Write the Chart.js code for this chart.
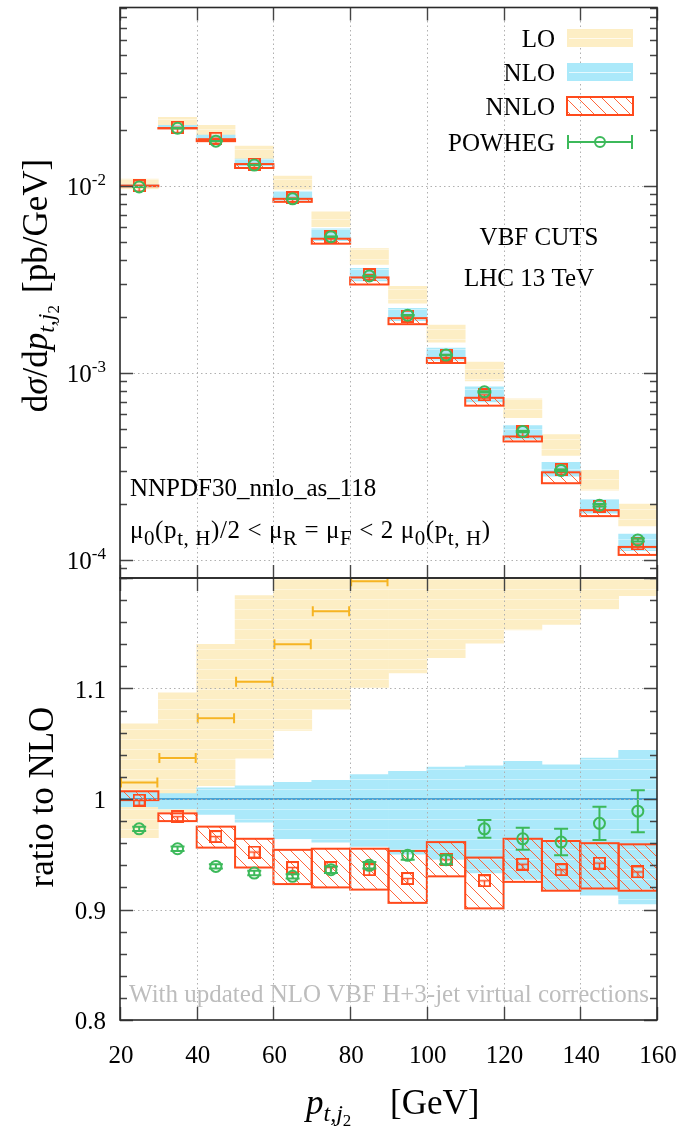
<!DOCTYPE html>
<html>
<head>
<meta charset="utf-8">
<title>VBF H pt,j2</title>
<script src="https://cdn.jsdelivr.net/npm/chart.js@4.4.1/dist/chart.umd.min.js"></script>
<style>
  html, body { margin: 0; padding: 0; background: #fff; }
  #wrap { position: relative; width: 683px; height: 1128px; overflow: hidden; }
  canvas { position: absolute; left: 0; }
  #ratioCanvas { top: 560px; }
  #mainCanvas { top: 0; }
</style>
</head>
<body>
<div id="wrap">
  <canvas id="ratioCanvas" width="683" height="568"></canvas>
  <canvas id="mainCanvas" width="683" height="600"></canvas>
</div>
<script>
// bins in p_t,j2 [GeV]
const binCenters = [25, 35, 45, 55, 65, 75, 85, 95, 105, 115, 125, 135, 145, 155];
const halfBin = 5;

// upper panel, dsigma/dpt [pb/GeV]
const loLow     = [0.00964, 0.0205, 0.01868, 0.01392, 0.00952, 0.00605, 0.0038, 0.002357, 0.001462, 0.000907, 0.000576, 0.000362, 0.000236, 0.0001517];
const loHigh    = [0.01089, 0.02328, 0.02111, 0.01632, 0.0113, 0.00727, 0.00462, 0.0029, 0.0018, 0.001144, 0.000727, 0.000468, 0.000301, 0.0001986];
const nloLow    = [0.00995, 0.0203, 0.0176, 0.0128, 0.0084, 0.0051, 0.0031, 0.0019, 0.00117, 0.0007, 0.00044, 0.00028, 0.000178, 0.000112];
const nloHigh   = [0.01012, 0.02111, 0.01868, 0.01392, 0.00929, 0.0059, 0.00362, 0.002216, 0.001358, 0.000842, 0.000523, 0.000332, 0.000211, 0.0001375];
const nnloLow   = [0.00996, 0.0203, 0.01735, 0.01247, 0.00822, 0.00491, 0.00297, 0.001822, 0.00113, 0.000668, 0.00043, 0.000257, 0.0001714, 0.0001063];
const nnloHigh  = [0.01004, 0.0204, 0.01778, 0.01309, 0.00853, 0.00522, 0.00324, 0.001962, 0.001202, 0.000736, 0.000457, 0.000294, 0.0001845, 0.0001173];
const nnloCentral = [0.0100, 0.0206, 0.0180, 0.01309, 0.00863, 0.00535, 0.00336, 0.00201, 0.001246, 0.000764, 0.000486, 0.000305, 0.000194, 0.0001216];
const powheg    = [0.00988, 0.02035, 0.01735, 0.01293, 0.00853, 0.00535, 0.0033, 0.002035, 0.001246, 0.000792, 0.000486, 0.000301, 0.000196, 0.0001278];
const powhegErr = [0.00002, 0.00004, 0.00003, 0.00003, 0.00002, 0.000016, 0.00001, 0.000008, 0.000005, 0.000006, 0.000005, 0.0000035, 0.000003, 0.0000025];

// lower panel, ratio to NLO
const loRatioLow    = [0.965, 0.988, 1.012, 1.037, 1.062, 1.081, 1.101, 1.114, 1.128, 1.141, 1.153, 1.158, 1.172, 1.184];
const loRatioHigh   = [1.068, 1.096, 1.140, 1.184, 1.24, 1.28, 1.32, 1.36, 1.37, 1.43, 1.46, 1.50, 1.51, 1.54];
const loRatio       = [1.015, 1.037, 1.073, 1.106, 1.140, 1.170, 1.197, 1.23, 1.24, 1.27, 1.30, 1.31, 1.33, 1.34];
const nloRatioLow   = [0.993, 0.991, 0.986, 0.979, 0.964, 0.961, 0.957, 0.950, 0.945, 0.933, 0.927, 0.917, 0.913, 0.905];
const nloRatioHigh  = [1.006, 1.005, 1.010, 1.012, 1.015, 1.017, 1.022, 1.025, 1.029, 1.030, 1.034, 1.031, 1.037, 1.044];
const nloRatio      = [1, 1, 1, 1, 1, 1, 1, 1, 1, 1, 1, 1, 1, 1];
const nnloRatioLow  = [0.999, 0.980, 0.956, 0.938, 0.923, 0.920, 0.918, 0.906, 0.930, 0.901, 0.925, 0.917, 0.919, 0.917];
const nnloRatioHigh = [1.007, 0.987, 0.975, 0.964, 0.954, 0.955, 0.955, 0.953, 0.961, 0.947, 0.964, 0.962, 0.960, 0.959];
const nnloRatio     = [0.999, 0.984, 0.966, 0.952, 0.938, 0.938, 0.936, 0.928, 0.945, 0.926, 0.941, 0.936, 0.942, 0.934];
const powRatio      = [0.973, 0.955, 0.939, 0.933, 0.930, 0.936, 0.940, 0.949, 0.945, 0.973, 0.964, 0.961, 0.978, 0.989];
const powRatioErr   = [0.002, 0.002, 0.002, 0.002, 0.002, 0.003, 0.003, 0.004, 0.004, 0.008, 0.010, 0.012, 0.015, 0.019];

// axes
const xTicks = [20, 40, 60, 80, 100, 120, 140, 160];
const xGrid = [40, 60, 80, 100, 120, 140];
const mainMajor = [1e-4, 1e-3, 1e-2];
const mainExp = ['-4', '-3', '-2'];
const mainMinor = [8e-5, 9e-5, 2e-4, 3e-4, 4e-4, 5e-4, 6e-4, 7e-4, 8e-4, 9e-4, 2e-3, 3e-3, 4e-3, 5e-3, 6e-3, 7e-3, 8e-3, 9e-3, 2e-2, 3e-2, 4e-2, 5e-2, 6e-2, 7e-2, 8e-2, 9e-2];
const ratioMajor = [0.8, 0.9, 1, 1.1, 1.2];
const ratioLabels = ['0.8', '0.9', '1', '1.1'];
const ratioMinor = [0.82, 0.84, 0.86, 0.88, 0.92, 0.94, 0.96, 0.98, 1.02, 1.04, 1.06, 1.08, 1.12, 1.14, 1.16, 1.18];
const legendLabels = ['LO', 'NLO', 'NNLO', 'POWHEG'];

const SERIF = "'Liberation Serif', 'Times New Roman', serif";
const RED = '#ff4a1c', GREEN = '#3cb95a', GOLD = '#f6b422';
const LOFILL = '#fdeec5', NLOFILL = '#abe9fa', NLOLINE = '#4aa3d5', FRAME = '#2a2a2a';

function makeHatch(ctx) {
  const c = document.createElement('canvas');
  c.width = 12; c.height = 12;
  const g = c.getContext('2d');
  g.strokeStyle = 'rgba(255,95,50,0.95)';
  g.lineWidth = 1;
  g.beginPath();
  g.moveTo(-2, -2); g.lineTo(14, 14);
  g.moveTo(-2, 10); g.lineTo(2, 14);
  g.moveTo(10, -2); g.lineTo(14, 2);
  g.stroke();
  return ctx.createPattern(c, 'repeat');
}

function makeStripes(ctx, fill) {
  const c = document.createElement('canvas');
  c.width = 4; c.height = 10;
  const g = c.getContext('2d');
  g.fillStyle = fill;
  g.fillRect(0, 0, 4, 10);
  g.fillStyle = 'rgba(255,255,255,0.4)';
  g.fillRect(0, 9, 4, 1);
  return ctx.createPattern(c, 'repeat');
}

function makeMarker() {
  const c = document.createElement('canvas');
  c.width = 13; c.height = 13;
  const g = c.getContext('2d');
  g.strokeStyle = RED;
  g.lineWidth = 2;
  g.strokeRect(1, 1, 11, 11);
  g.lineWidth = 1.5;
  g.beginPath();
  g.moveTo(1, 6.5); g.lineTo(12, 6.5);
  g.moveTo(6.5, 6.5); g.lineTo(6.5, 12);
  g.stroke();
  return c;
}

function bandData(lo, hi) {
  return binCenters.map((x, i) => ({ x: x, y: [lo[i], hi[i]] }));
}
function pointData(v) {
  return binCenters.map((x, i) => ({ x: x, y: v[i] }));
}

function fontOf(p) {
  return (p.i ? 'italic ' : '') + p.s + 'px ' + SERIF;
}
function drawParts(ctx, parts, x, y, align) {
  let w = 0;
  parts.forEach(p => { ctx.font = fontOf(p); w += ctx.measureText(p.t).width; });
  let cx = align === 'right' ? x - w : align === 'center' ? x - w / 2 : x;
  ctx.textAlign = 'left';
  parts.forEach(p => {
    ctx.font = fontOf(p);
    ctx.fillText(p.t, cx, y + (p.dy || 0));
    cx += ctx.measureText(p.t).width;
  });
  return w;
}

// shared drawing for both panels: outlines, error bars, grid, ticks, frame
function panelPlugin(cfg) {
  return {
    id: 'panel' + cfg.name,
    afterDatasetDraw(chart, args) {
      const ds = chart.data.datasets[args.index];
      const { ctx, chartArea: a } = chart;
      const sx = chart.scales.x, sy = chart.scales.y;
      ctx.save();
      ctx.beginPath();
      ctx.rect(a.left, a.top, a.right - a.left, a.bottom - a.top);
      ctx.clip();
      if (ds.outline) {
        ctx.strokeStyle = ds.outline;
        ctx.lineWidth = 2;
        args.meta.data.forEach(bar => {
          const p = bar.getProps(['x', 'y', 'base', 'width'], true);
          ctx.strokeRect(p.x - p.width / 2, Math.min(p.y, p.base), p.width, Math.abs(p.base - p.y));
        });
      }
      if (ds.hbars) {
        const hb = ds.hbars;
        ctx.strokeStyle = hb.color;
        ctx.lineWidth = hb.width;
        ctx.beginPath();
        binCenters.forEach((c, i) => {
          const py = sy.getPixelForValue(hb.values[i]);
          const x0 = sx.getPixelForValue(c - halfBin), x1 = sx.getPixelForValue(c + halfBin);
          ctx.moveTo(x0, py); ctx.lineTo(x1, py);
          if (hb.cap) {
            ctx.moveTo(x0 + 1, py - hb.cap); ctx.lineTo(x0 + 1, py + hb.cap);
            ctx.moveTo(x1 - 1, py - hb.cap); ctx.lineTo(x1 - 1, py + hb.cap);
          }
        });
        ctx.stroke();
      }
      if (ds.errors) {
        ctx.strokeStyle = ds.borderColor;
        ctx.lineWidth = 2;
        ctx.beginPath();
        ds.data.forEach((d, i) => {
          const px = sx.getPixelForValue(d.x);
          const y0 = sy.getPixelForValue(d.y - ds.errors[i]);
          const y1 = sy.getPixelForValue(d.y + ds.errors[i]);
          ctx.moveTo(px, y0); ctx.lineTo(px, y1);
          ctx.moveTo(px - 7, y0); ctx.lineTo(px + 7, y0);
          ctx.moveTo(px - 7, y1); ctx.lineTo(px + 7, y1);
        });
        ctx.stroke();
      }
      ctx.restore();
    },
    afterDatasetsDraw(chart) {
      const { ctx, chartArea: a } = chart;
      const sx = chart.scales.x, sy = chart.scales.y;
      ctx.save();
      // dotted grid
      ctx.strokeStyle = '#b0b0b0';
      ctx.lineWidth = 1;
      ctx.setLineDash([1.5, 3]);
      ctx.beginPath();
      xGrid.forEach(v => {
        const px = Math.round(sx.getPixelForValue(v)) + 0.5;
        ctx.moveTo(px, a.top); ctx.lineTo(px, a.bottom);
      });
      cfg.gridY.forEach(v => {
        const py = Math.round(sy.getPixelForValue(v)) + 0.5;
        ctx.moveTo(a.left, py); ctx.lineTo(a.right, py);
      });
      ctx.stroke();
      ctx.setLineDash([]);
      // inward ticks on all sides
      ctx.strokeStyle = '#444';
      ctx.lineWidth = 1.4;
      ctx.beginPath();
      const yTick = (v, len) => {
        const py = Math.round(sy.getPixelForValue(v)) + 0.5;
        ctx.moveTo(a.left, py); ctx.lineTo(a.left + len, py);
        ctx.moveTo(a.right, py); ctx.lineTo(a.right - len, py);
      };
      cfg.yMajor.forEach(v => yTick(v, 13));
      cfg.yMinor.forEach(v => yTick(v, 7));
      xTicks.forEach(v => {
        const px = Math.round(sx.getPixelForValue(v)) + 0.5;
        ctx.moveTo(px, a.top); ctx.lineTo(px, a.top + 13);
        ctx.moveTo(px, a.bottom); ctx.lineTo(px, a.bottom - 13);
      });
      ctx.stroke();
      // frame
      ctx.strokeStyle = FRAME;
      ctx.lineWidth = 1.6;
      ctx.strokeRect(a.left, a.top, a.right - a.left, a.bottom - a.top);
      ctx.restore();
    },
    afterDraw(chart) {
      const ctx = chart.ctx;
      ctx.save();
      ctx.fillStyle = '#000';
      ctx.textBaseline = 'alphabetic';
      cfg.decorate(chart, ctx);
      ctx.restore();
    }
  };
}

function decorateMain(chart, ctx) {
  const sy = chart.scales.y;
  // y tick labels 10^n
  mainMajor.forEach((v, i) => {
    const py = sy.getPixelForValue(v);
    ctx.textAlign = 'right';
    ctx.font = '17px ' + SERIF;
    const ew = ctx.measureText(mainExp[i]).width;
    ctx.fillText(mainExp[i], 106, py - 1);
    ctx.font = '25px ' + SERIF;
    ctx.fillText('10', 106 - ew, py + 9);
  });

  // legend
  const rows = [38, 72, 106, 142];
  legendLabels.forEach((lab, i) => {
    const ry = rows[i];
    ctx.fillStyle = '#000';
    ctx.font = '25px ' + SERIF;
    ctx.textAlign = 'right';
    ctx.fillText(lab, 555, ry + 9);
    if (i === 0 || i === 1) {
      ctx.fillStyle = i === 0 ? LOFILL : NLOFILL;
      ctx.fillRect(567, ry - 9, 66, 18);
      ctx.fillStyle = 'rgba(255,255,255,0.7)';
      ctx.fillRect(569, ry, 62, 1);
    } else if (i === 2) {
      ctx.fillStyle = hatchMain;
      ctx.fillRect(567, ry - 9, 66, 18);
      ctx.strokeStyle = RED;
      ctx.lineWidth = 2;
      ctx.strokeRect(567, ry - 9, 66, 18);
    } else {
      ctx.strokeStyle = GREEN;
      ctx.lineWidth = 2;
      ctx.beginPath();
      ctx.moveTo(567, ry); ctx.lineTo(633, ry);
      ctx.moveTo(568, ry - 7); ctx.lineTo(568, ry + 7);
      ctx.moveTo(632, ry - 7); ctx.lineTo(632, ry + 7);
      ctx.stroke();
      ctx.beginPath();
      ctx.arc(600, ry, 5, 0, Math.PI * 2);
      ctx.stroke();
    }
  });

  // annotations
  ctx.fillStyle = '#000';
  ctx.font = '25px ' + SERIF;
  ctx.textAlign = 'center';
  ctx.fillText('VBF CUTS', 539, 245);
  ctx.fillText('LHC 13 TeV', 529, 286);
  ctx.textAlign = 'left';
  ctx.fillText('NNPDF30_nnlo_as_118', 130, 496);
  ctx.letterSpacing = '0.6px';
  drawParts(ctx, [
    { t: 'μ', s: 25 }, { t: '0', s: 21, dy: 7 }, { t: '(p', s: 25 }, { t: 't, H', s: 21, dy: 7 },
    { t: ')/2 < μ', s: 25 }, { t: 'R', s: 21, dy: 7 }, { t: ' = μ', s: 25 }, { t: 'F', s: 21, dy: 7 },
    { t: ' < 2 μ', s: 25 }, { t: '0', s: 21, dy: 7 }, { t: '(p', s: 25 }, { t: 't, H', s: 21, dy: 7 },
    { t: ')', s: 25 }
  ], 130, 538, 'left');
  ctx.letterSpacing = '0px';

  // y axis title, rotated
  ctx.save();
  ctx.translate(47, 0);
  ctx.rotate(-Math.PI / 2);
  drawParts(ctx, [
    { t: 'd', s: 35 }, { t: 'σ', s: 35, i: true }, { t: '/d', s: 35 }, { t: 'p', s: 35, i: true },
    { t: 't,j', s: 24, i: true, dy: 7 }, { t: '2', s: 17, dy: 12 }
  ], -305, 0, 'right');
  drawParts(ctx, [{ t: '[pb/GeV]', s: 35 }], -293, 0, 'left');
  ctx.restore();
}

const OFF = 560;
function decorateRatio(chart, ctx) {
  const sx = chart.scales.x, sy = chart.scales.y;
  ctx.font = '25px ' + SERIF;
  ctx.textAlign = 'right';
  ratioLabels.forEach((lab, i) => {
    const py = sy.getPixelForValue(ratioMajor[i]);
    ctx.fillText(lab, 106, py + 9);
  });
  ctx.textAlign = 'center';
  xTicks.forEach(v => {
    ctx.fillText(String(v), sx.getPixelForValue(v) + 1, 1063 - OFF);
  });

  // watermark
  ctx.fillStyle = '#bdbdbd';
  ctx.fillText('With updated NLO VBF H+3-jet virtual corrections', 389, 1002 - OFF);

  // x axis title
  ctx.fillStyle = '#000';
  drawParts(ctx, [
    { t: 'p', s: 35, i: true }, { t: 't,j', s: 24, i: true, dy: 7 }, { t: '2', s: 17, dy: 12 }
  ], 306, 1114 - OFF, 'left');
  drawParts(ctx, [{ t: '[GeV]', s: 35 }], 390, 1114 - OFF, 'left');

  // y axis title
  ctx.save();
  ctx.translate(53, 0);
  ctx.rotate(-Math.PI / 2);
  drawParts(ctx, [{ t: 'ratio to NLO', s: 35 }], -(797 - OFF), 0, 'center');
  ctx.restore();
}

const mainCtx = document.getElementById('mainCanvas').getContext('2d');
const ratioCtx = document.getElementById('ratioCanvas').getContext('2d');
const hatchMain = makeHatch(mainCtx);
const hatchRatio = makeHatch(ratioCtx);
const marker = makeMarker();

function baseOptions(padding, yScale) {
  return {
    responsive: false,
    animation: false,
    events: [],
    layout: { padding: padding },
    plugins: { legend: { display: false }, tooltip: { enabled: false } },
    scales: {
      x: { type: 'linear', min: 20, max: 160, offset: false, display: false },
      y: Object.assign({ display: false }, yScale)
    }
  };
}

function datasets(ctx, hatch, d) {
  return [
    {
      type: 'scatter', label: 'POWHEG', data: pointData(d.pow), errors: d.powErr, order: 0, clip: 0,
      borderColor: GREEN, pointStyle: 'circle', pointRadius: 5.5, pointBorderWidth: 2,
      pointBorderColor: GREEN, pointBackgroundColor: 'rgba(0,0,0,0)'
    },
    {
      type: 'scatter', label: 'NNLO central', data: pointData(d.nnlo), order: 1, clip: 0,
      pointStyle: marker, pointRadius: 6
    },
    {
      type: 'bar', label: 'NNLO', data: bandData(d.nnloLow, d.nnloHigh), order: 2, clip: 0,
      grouped: false, barPercentage: 1, categoryPercentage: 1, borderWidth: 0,
      backgroundColor: hatch, outline: RED
    },
    {
      type: 'bar', label: 'NLO', data: bandData(d.nloLow, d.nloHigh), order: 3, clip: 0,
      grouped: false, barPercentage: 1, categoryPercentage: 1, borderWidth: 0,
      backgroundColor: makeStripes(ctx, NLOFILL), hbars: d.nloLine
    },
    {
      type: 'bar', label: 'LO', data: bandData(d.loLow, d.loHigh), order: 4, clip: 0,
      grouped: false, barPercentage: 1, categoryPercentage: 1, borderWidth: 0,
      backgroundColor: makeStripes(ctx, LOFILL), hbars: d.loLine
    }
  ];
}

new Chart(mainCtx, {
  type: 'bar',
  data: {
    datasets: datasets(mainCtx, hatchMain, {
      pow: powheg, powErr: powhegErr, nnlo: nnloCentral, nnloLow: nnloLow, nnloHigh: nnloHigh,
      nloLow: nloLow, nloHigh: nloHigh, loLow: loLow, loHigh: loHigh
    })
  },
  options: baseOptions({ left: 120, right: 26, top: 7, bottom: 22 },
    { type: 'logarithmic', min: 8e-5, max: 0.09 }),
  plugins: [panelPlugin({ name: 'Main', gridY: mainMajor, yMajor: mainMajor, yMinor: mainMinor, decorate: decorateMain })]
});

new Chart(ratioCtx, {
  type: 'bar',
  data: {
    datasets: datasets(ratioCtx, hatchRatio, {
      pow: powRatio, powErr: powRatioErr, nnlo: nnloRatio, nnloLow: nnloRatioLow, nnloHigh: nnloRatioHigh,
      nloLow: nloRatioLow, nloHigh: nloRatioHigh, loLow: loRatioLow, loHigh: loRatioHigh,
      nloLine: { values: nloRatio, color: NLOLINE, width: 2, cap: 0 },
      loLine: { values: loRatio, color: GOLD, width: 2, cap: 5 }
    })
  },
  options: baseOptions({ left: 120, right: 26, top: 18, bottom: 108 },
    { type: 'linear', min: 0.8, max: 1.2 }),
  plugins: [panelPlugin({ name: 'Ratio', gridY: [0.9, 1, 1.1], yMajor: ratioMajor, yMinor: ratioMinor, decorate: decorateRatio })]
});
</script>
</body>
</html>
